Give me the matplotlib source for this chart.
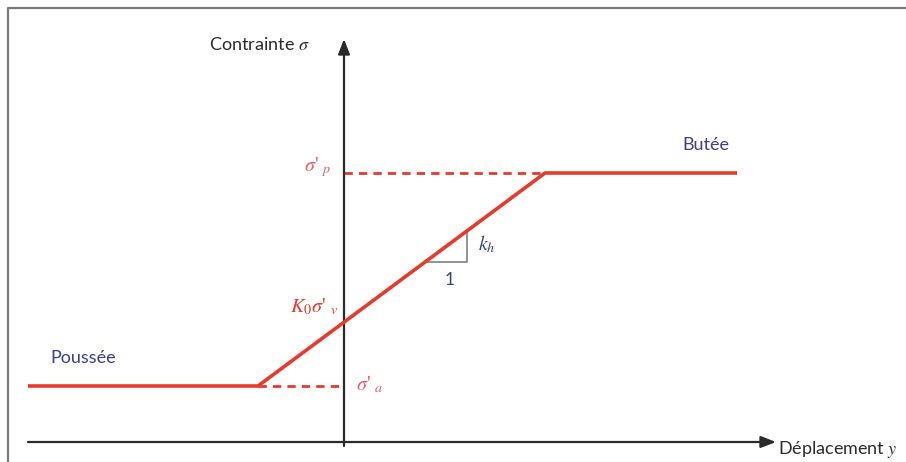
import matplotlib
matplotlib.use("Agg")
import matplotlib.pyplot as plt
from matplotlib.lines import Line2D

# Stress–displacement law (displacement y, stress sigma) in drawing units
disp = [-316, -86, 201, 393]
stress = [56, 56, 269, 269]
sigma_a = 56        # active limit
sigma_p = 269       # passive limit
k0_sigma_v = 120    # at-rest stress (y = 0)

RED = "#e53a2c"
LABEL_RED = "#e2616b"
NAVY = "#3b3f8c"
AXIS = "#2b2b2b"
SANS = ["Lato", "DejaVu Sans"]
SERIF = ["Liberation Serif", "DejaVu Serif"]

fig = plt.figure(figsize=(9.06, 4.62), dpi=100)
fig.patch.set_facecolor("white")
ax = fig.add_axes([0, 0, 1, 1])
ax.set_xlim(-344, 562)
ax.set_ylim(-20, 442)
ax.axis("off")

# outer frame (top and left edges)
fig.add_artist(Line2D([8 / 906, 8 / 906, 1.0], [0.0, 1 - 8 / 462, 1 - 8 / 462],
                      transform=fig.transFigure, color="#7a7a7a", lw=1.6))

# axes with arrows
ax.annotate("", xy=(432, 0), xytext=(-316, 0),
            arrowprops=dict(arrowstyle="-|>,head_length=0.9,head_width=0.35",
                            color=AXIS, lw=1.6, shrinkA=0, shrinkB=0))
ax.annotate("", xy=(0, 403), xytext=(0, -4),
            arrowprops=dict(arrowstyle="-|>,head_length=0.9,head_width=0.35",
                            color=AXIS, lw=1.6, shrinkA=0, shrinkB=0))

# dashed limit levels
ax.plot([0, disp[2]], [sigma_p, sigma_p], color=RED, lw=2.0, ls=(0, (3, 2.2)))
ax.plot([disp[1], 0], [sigma_a, sigma_a], color=RED, lw=2.0, ls=(0, (3, 2.2)))

# constitutive law
ax.plot(disp, stress, color=RED, lw=2.6, solid_capstyle="butt", zorder=5)

# slope triangle
slope = (stress[2] - stress[1]) / (disp[2] - disp[1])
tx0, tx1 = 81, 123
ty0 = stress[1] + slope * (tx0 - disp[1])
ty1 = stress[1] + slope * (tx1 - disp[1])
ax.plot([tx0, tx1, tx1], [ty0, ty0, ty1], color="#8a8a8a", lw=1.3, zorder=4)

# labels
ax.text(-135, 397, r"Contrainte $\sigma$", fontsize=13, color=AXIS,
        family=SANS, ha="left", va="center", math_fontfamily="stix")
ax.text(434, -8, r"Déplacement $y$", fontsize=13, color=AXIS,
        family=SANS, ha="left", va="center", math_fontfamily="stix")
ax.text(-294, 84, "Poussée", fontsize=13, color=NAVY, family=SANS,
        ha="left", va="center")
ax.text(338, 297, "Butée", fontsize=13, color=NAVY, family=SANS,
        ha="left", va="center")
ax.text(134, 198, r"$k_h$", fontsize=14.5, color=NAVY, ha="left", va="center",
        math_fontfamily="stix")
ax.text(106, 162, "1", fontsize=12.5, color="#3d4070", family=SANS,
        ha="center", va="center")
ax.text(-12, 275, r"$\sigma$' $_p$", fontsize=14.5, color=LABEL_RED, ha="right",
        va="center", family=SERIF, math_fontfamily="stix")
ax.text(-6, 135, r"$K_0\sigma$' $_v$", fontsize=14.5, color=RED, ha="right",
        va="center", family=SERIF, math_fontfamily="stix")
ax.text(12, 57, r"$\sigma$' $_a$", fontsize=14.5, color=LABEL_RED, ha="left",
        va="center", family=SERIF, math_fontfamily="stix")

fig.savefig("out.png", dpi=100, facecolor="white")
